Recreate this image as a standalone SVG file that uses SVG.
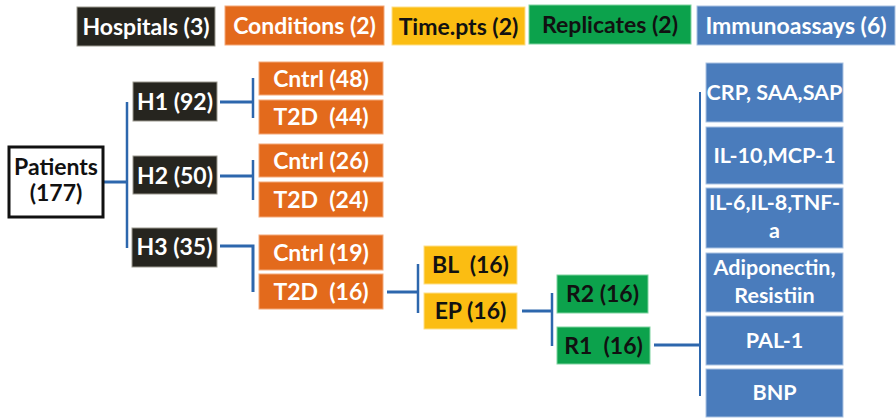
<svg xmlns="http://www.w3.org/2000/svg" width="896" height="418" viewBox="0 0 896 418">
  <style>
    text { font-family: Lato, "Open Sans", "Liberation Sans", sans-serif; font-weight: bold; font-size: 23px; text-anchor: middle; white-space: pre; }
    .blue text { font-size: 21.5px; }
    #legend-immunoassays text { font-size: 23px; }
    .dark rect { fill: #26251f; stroke: #9c9a90; stroke-width: 1; }
    .orange rect { fill: #e36a1c; stroke: #f3a878; stroke-width: 1; }
    .yellow rect { fill: #fbbd12; stroke: #fde08a; stroke-width: 1; }
    .green rect { fill: #0ca24c; stroke: #7fd3a0; stroke-width: 1; }
    .blue rect { fill: #4a7cbc; stroke: #a9c2e2; stroke-width: 1; }
    .dark text, .orange text, .blue text { fill: #ffffff; }
    .yellow text, .green text { fill: #111111; }
    .root rect { fill: #ffffff; stroke: #111111; stroke-width: 3; }
    .root text { fill: #111111; }
    .wire { fill: none; stroke: #2d67ad; stroke-width: 3; }
    .bar { fill: none; stroke: #2d67ad; stroke-width: 2.5; }
  </style>

  <!-- legend row -->
  <g id="legend-hospitals" class="dark"><rect x="77" y="7" width="138" height="39"/><text x="146" y="35">Hospitals (3)</text></g>
  <g id="legend-conditions" class="orange"><rect x="225" y="6" width="159" height="39"/><text x="304.5" y="34">Conditions (2)</text></g>
  <g id="legend-timepts" class="yellow"><rect x="392" y="7" width="133" height="38"/><text x="458.5" y="35">Time.pts (2)</text></g>
  <g id="legend-replicates" class="green"><rect x="529" y="5" width="162" height="39"/><text x="610" y="33">Replicates (2)</text></g>
  <g id="legend-immunoassays" class="blue"><rect x="697" y="6" width="198" height="39"/><text x="796" y="34">Immunoassays (6)</text></g>

  <!-- connectors -->
  <g id="connectors">
    <path class="wire" d="M103 182 H127"/>
    <path class="bar" d="M127 102 V248"/>
    <path class="wire" d="M220 102 H253"/>
    <path class="bar" d="M253 78 V118"/>
    <path class="wire" d="M220 176 H253"/>
    <path class="bar" d="M253 160 V200"/>
    <path class="wire" d="M220 246 H253 V292"/>
    <path class="wire" d="M387 292 H417"/>
    <path class="bar" d="M418 264 V313"/>
    <path class="wire" d="M522 311 H552"/>
    <path class="bar" d="M552 293 V346"/>
    <path class="wire" d="M654 345 H700"/>
    <path class="bar" d="M700 92 V396" style="stroke-width:2"/>
  </g>

  <!-- patients -->
  <g id="patients" class="root"><rect x="9" y="147" width="94" height="70"/><text x="56" y="175">Patients</text><text x="56" y="201">(177)</text></g>

  <!-- hospitals -->
  <g id="h1" class="dark"><rect x="133" y="82" width="84" height="39"/><text x="175" y="110">H1 (92)</text></g>
  <g id="h2" class="dark"><rect x="133" y="156" width="84" height="38"/><text x="175" y="184">H2 (50)</text></g>
  <g id="h3" class="dark"><rect x="132" y="228" width="85" height="39"/><text x="174.5" y="255">H3 (35)</text></g>

  <!-- conditions -->
  <g id="h1-cntrl" class="orange"><rect x="259" y="62" width="124" height="33"/><text x="321" y="87">Cntrl (48)</text></g>
  <g id="h1-t2d" class="orange"><rect x="259" y="100" width="124" height="34"/><text x="321" y="125">T2D  (44)</text></g>
  <g id="h2-cntrl" class="orange"><rect x="259" y="144" width="124" height="33"/><text x="321" y="169">Cntrl (26)</text></g>
  <g id="h2-t2d" class="orange"><rect x="259" y="182" width="124" height="35"/><text x="321" y="208">T2D  (24)</text></g>
  <g id="h3-cntrl" class="orange"><rect x="259" y="235" width="124" height="35"/><text x="321" y="261">Cntrl (19)</text></g>
  <g id="h3-t2d" class="orange"><rect x="259" y="274" width="124" height="35"/><text x="321" y="300">T2D  (16)</text></g>

  <!-- time points -->
  <g id="bl" class="yellow"><rect x="424" y="246" width="93" height="38"/><text x="470.5" y="273">BL  (16)</text></g>
  <g id="ep" class="yellow"><rect x="424" y="293" width="93" height="36"/><text x="470.5" y="319">EP (16)</text></g>

  <!-- replicates -->
  <g id="r2" class="green"><rect x="557" y="275" width="91" height="38"/><text x="602.5" y="302">R2 (16)</text></g>
  <g id="r1" class="green"><rect x="557" y="327" width="93" height="37"/><text x="603.5" y="354">R1  (16)</text></g>

  <!-- immunoassays -->
  <g id="assay-crp" class="blue"><rect x="706" y="63" width="137" height="59"/><text x="774.5" y="100">CRP, SAA,SAP</text></g>
  <g id="assay-il10" class="blue"><rect x="706" y="127" width="137" height="57"/><text x="774.5" y="163">IL-10,MCP-1</text></g>
  <g id="assay-il6" class="blue"><rect x="706" y="188" width="137" height="60"/><text x="774.5" y="210">IL-6,IL-8,TNF-</text><text x="774.5" y="238">a</text></g>
  <g id="assay-adipo" class="blue"><rect x="706" y="253" width="137" height="59"/><text x="774.5" y="275">Adiponectin,</text><text x="774.5" y="303">Resistiin</text></g>
  <g id="assay-pal" class="blue"><rect x="706" y="316" width="137" height="49"/><text x="774.5" y="348">PAL-1</text></g>
  <g id="assay-bnp" class="blue"><rect x="706" y="369" width="137" height="48"/><text x="774.5" y="400">BNP</text></g>
</svg>
